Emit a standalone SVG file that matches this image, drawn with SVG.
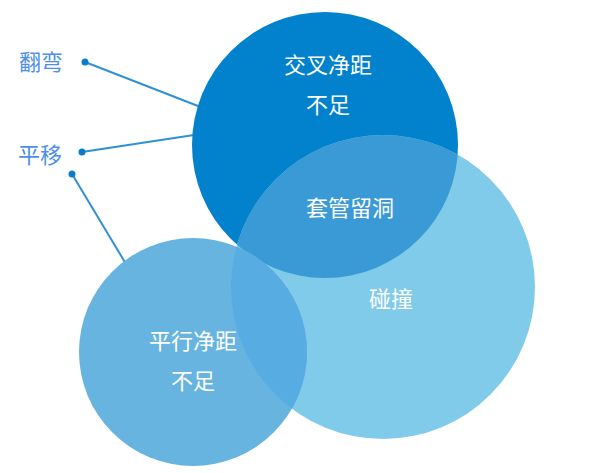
<svg xmlns="http://www.w3.org/2000/svg" width="603" height="473" viewBox="0 0 603 473">
<style>
.lbl{font-family:"Noto Sans CJK SC","Liberation Sans",sans-serif;font-size:22px;fill:#4d8fe6}
.ct{font-family:"Noto Sans CJK SC","Liberation Sans",sans-serif;font-size:22px;fill:#ffffff;text-anchor:middle}
.conn{stroke:#2f91d3;stroke-width:2;fill:none}
.dot{fill:#0a7ccb}
</style>
<defs>
<clipPath id="cTop"><circle cx="325" cy="145" r="133"/></clipPath>
<clipPath id="cRight"><circle cx="383" cy="287" r="152"/></clipPath>
<clipPath id="cLeft"><circle cx="193" cy="352" r="114"/></clipPath>
</defs>
<rect width="603" height="473" fill="#ffffff"/>
<g id="connectors">
<line class="conn" x1="85" y1="62" x2="198" y2="106"/>
<line class="conn" x1="82" y1="152" x2="194" y2="135"/>
<line class="conn" x1="72" y1="174" x2="126" y2="264"/>
<circle class="dot" cx="85" cy="62" r="3.5"/>
<circle class="dot" cx="82" cy="152" r="3.5"/>
<circle class="dot" cx="72" cy="174" r="3.5"/>
</g>
<g id="label-fanwan"><text class="lbl" x="19" y="70">翻弯</text></g>
<g id="label-pingyi"><text class="lbl" x="18" y="163">平移</text></g>
<g id="circle-top">
<circle cx="325" cy="145" r="133" fill="#0281cc"/>
</g>
<g id="circle-right">
<circle cx="383" cy="287" r="152" fill="#80cbea"/>
<circle cx="383" cy="287" r="152" fill="#3a9ad6" clip-path="url(#cTop)"/>
</g>
<g id="circle-left">
<circle cx="193" cy="352" r="114" fill="#68b4e0"/>
<circle cx="193" cy="352" r="114" fill="#57ade1" clip-path="url(#cRight)"/>
</g>
<g id="text-top">
<text class="ct" x="328" y="73">交叉净距</text>
<text class="ct" x="328" y="113">不足</text>
</g>
<g id="text-center"><text class="ct" x="350" y="216">套管留洞</text></g>
<g id="text-right"><text class="ct" x="391" y="307">碰撞</text></g>
<g id="text-left">
<text class="ct" x="193" y="349">平行净距</text>
<text class="ct" x="193" y="389">不足</text>
</g>
</svg>
